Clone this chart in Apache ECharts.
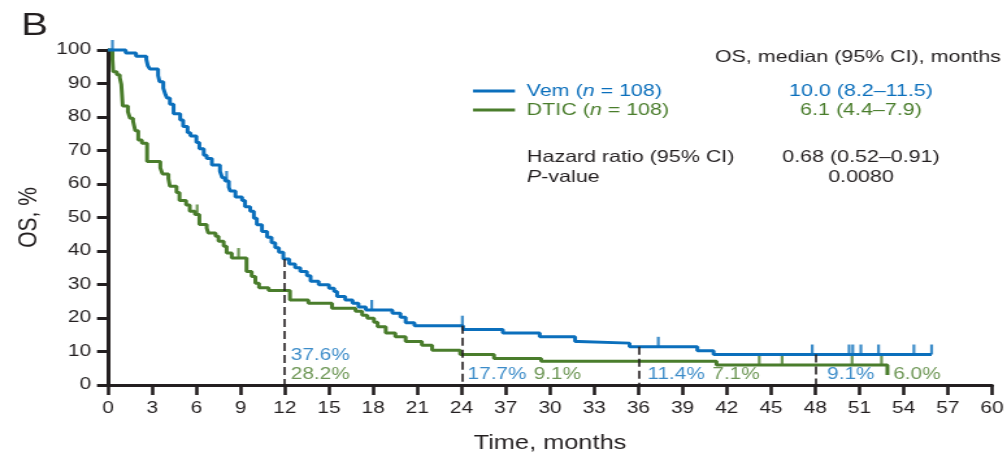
<!DOCTYPE html>
<html><head><meta charset="utf-8">
<script src="https://cdn.jsdelivr.net/npm/echarts@6/dist/echarts.min.js"></script>
<style>
html,body{margin:0;padding:0;background:#fff;overflow:hidden;}
#wrap{width:1007px;height:453px;overflow:hidden;position:relative;}
#chart{width:775px;height:453px;transform:scaleX(1.29935);transform-origin:0 0;}
</style></head><body>
<div id="wrap"><div id="chart"></div></div>
<script>
// ---------------- data ----------------
const vemTimes = [0,1.2,1.9,2.6,2.7,2.85,3.4,3.5,3.75,3.9,4.0,4.2,4.45,4.9,5.1,5.4,5.6,6.0,6.2,6.5,6.7,7.05,7.6,7.75,7.95,8.2,8.3,8.65,9.1,9.3,9.65,9.9,10.1,10.45,10.8,11.1,11.35,11.6,11.9,12.3,12.7,13.05,13.5,13.75,14.3,15.0,15.35,15.55,16.1,16.6,17.0,17.5,19.3,19.85,20.2,20.8,24.1,26.8,29.3,31.7,31.95,35.4,40.0,41.1];
const vemSurv  = [100,99.1,98.1,97.2,95.3,94.3,92.4,90.5,88.6,86.7,85.7,83.8,81.0,79.1,77.2,75.3,74.3,72.4,70.5,68.6,67.6,65.7,63.8,61.9,60.9,59.0,57.9,56.1,55.1,53.2,51.9,49.8,47.8,45.8,44.1,42.5,41.0,39.6,37.6,36.1,35.0,33.9,32.6,31.0,29.9,28.9,27.9,26.4,25.4,24.4,23.3,22.4,21.4,20.2,18.6,17.7,16.6,15.5,14.4,13.0,12.5,11.4,10.2,9.1];
const vemLastFollowUp = 55.9;
const vemCensor = [0.3,8.05,17.9,24.05,37.35,47.8,50.3,50.55,51.1,52.3,54.7,55.9];

const dticTimes = [0,0.3,0.35,0.6,0.8,0.9,1.0,1.35,1.5,1.7,1.85,2.05,2.3,2.65,3.55,3.7,4.1,4.2,4.65,4.85,5.3,5.55,5.9,6.2,6.7,6.8,7.3,7.5,7.85,8.05,8.4,9.4,9.75,10.0,10.25,10.9,12.35,13.6,15.2,16.8,17.25,17.6,18.05,18.3,18.85,19.5,20.2,21.3,22.0,23.9,26.2,29.4,41.3,52.9];
const dticSurv  = [100,97.2,93.5,92.6,91.7,89.8,83.3,81.5,79.6,78.7,75.9,73.1,72.2,66.7,64.8,63.0,61.6,59.3,57.5,55.1,53.7,51.9,50.9,47.9,46.8,45.4,44.4,42.9,41.4,39.4,37.9,33.9,32.4,30.4,29.0,28.2,25.4,24.4,22.9,22.0,20.8,19.9,18.7,17.4,15.5,14.4,13.0,11.9,10.4,9.1,7.9,7.1,6.0,3.0];
const dticLastFollowUp = 52.9;
const dticCensor = [6.05,8.86,44.2,45.75,50.5,52.5];

const landmarkTimes = [12,24,36,48];
const vemLandmark  = ['37.6%','17.7%','11.4%','9.1%'];
const dticLandmark = ['28.2%','9.1%','7.1%','6.0%'];

const xTickLabels = ['0','3','6','9','12','15','18','21','24','37','30','33','36','39','42','45','48','51','54','57','60'];
const yTicks = [0,10,20,30,40,50,60,70,80,90,100];

const vemName = 'Vem', dticName = 'DTIC';
const nPerArm = [108,108];
const medianText = ['10.0 (8.2–11.5)','6.1 (4.4–7.9)'];
const hrText = '0.68 (0.52–0.91)';
const pText = '0.0080';

// ---------------- style / layout ----------------
const S = 1007/775;               // horizontal stretch of the reference
const X = px => px / S;           // reference pixel -> design pixel
const BLUE = '#0b6fbc', GREEN = '#4a7d2c', INK = '#231f20';
const FONT = '"Liberation Sans", Arial, Helvetica, sans-serif';

function stepPoints(ts, vs, last){
  const pts = ts.map((t,i)=>[t, vs[i]]);
  if (last > ts[ts.length-1]) pts.push([last, vs[vs.length-1]]);
  return pts;
}
function survAt(ts, vs, t){
  let v = vs[0];
  for (let i=0;i<ts.length;i++){ if (ts[i] <= t) v = vs[i]; else break; }
  return v;
}

const chart = echarts.init(document.getElementById('chart'), null, {renderer:'canvas'});

const dashData = landmarkTimes.map(t => [{coord:[t, survAt(vemTimes, vemSurv, t)]},{coord:[t, 0]}]);

// label offsets (reference pixels, relative to landmark x / axis)
const blueDx = [6,6,9,12], greenDx = [6,72,74,78];
const blueDy = [-29,-10,-10,-10], greenDy = [-10,-10,-10,-10];

const labelItems = [];
landmarkTimes.forEach((t,i)=>{
  labelItems.push({value:[t,0], label:{formatter:vemLandmark[i], color:BLUE, position:[X(blueDx[i]), blueDy[i]]}});
  labelItems.push({value:[t,0], label:{formatter:dticLandmark[i], color:GREEN, position:[X(greenDx[i]), greenDy[i]]}});
});

const option = {
  animation:false,
  backgroundColor:'#fff',
  grid:{left:X(108), right:X(1007-992), top:50, bottom:68, containLabel:false, outerBoundsMode:'none'},
  xAxis:{
    type:'value', min:0, max:60, interval:3,
    name:'Time, months', nameLocation:'middle', nameGap:49,
    nameTextStyle:{fontSize:19.5, color:INK, fontFamily:FONT},
    axisLine:{show:true, lineStyle:{color:INK, width:3}},
    axisTick:{show:true, length:10, lineStyle:{color:INK, width:2.6}},
    axisLabel:{margin:16, fontSize:16, color:INK, fontFamily:FONT,
      formatter:(v)=> xTickLabels[Math.round(v/3)] ?? ''},
    splitLine:{show:false}
  },
  yAxis:{
    type:'value', min:0, max:100, interval:10,
    name:'OS, %', nameLocation:'middle', nameGap:X(51),
    nameTextStyle:{fontSize:21, color:INK, fontFamily:FONT},
    axisLine:{show:true, lineStyle:{color:INK, width:3}},
    axisTick:{show:true, length:X(11), lineStyle:{color:INK, width:3}},
    axisLabel:{margin:X(17), fontSize:16, color:INK, fontFamily:FONT,
      formatter:(v)=> yTicks.includes(v) ? String(v) : ''},
    splitLine:{show:false}
  },
  legend:{
    show:true, orient:'vertical', left:X(473), top:81.5, padding:0, itemGap:0,
    icon:'rect', itemWidth:X(515-473), itemHeight:3,
    data:[
      {name:vemName, textStyle:{color:BLUE}},
      {name:dticName, textStyle:{color:GREEN}}
    ],
    formatter:(name)=>{
      const n = name===vemName ? nPerArm[0] : nPerArm[1];
      return '{sp|}{a|' + name + ' (}{i|n}{a| = ' + n + ')}';
    },
    textStyle:{fontSize:16.5, fontFamily:FONT, lineHeight:19,
      rich:{
        sp:{width:4},
        a:{fontSize:16.5, fontFamily:FONT, lineHeight:19},
        i:{fontSize:16.5, fontFamily:FONT, fontStyle:'italic', lineHeight:19}
      }}
  },
  series:[
    {
      name:dticName, type:'line', step:'end', showSymbol:false, clip:false,
      data:stepPoints(dticTimes, dticSurv, dticLastFollowUp),
      lineStyle:{color:GREEN, width:3}, itemStyle:{color:GREEN}, z:3
    },
    {
      name:dticName+' censored', type:'scatter', clip:false,
      data:dticCensor.map(t=>[t, survAt(dticTimes, dticSurv, t)]),
      symbol:'rect', symbolSize:[2.2,10], symbolOffset:[0,-5],
      itemStyle:{color:GREEN}, z:3
    },
    {
      name:vemName, type:'line', step:'end', showSymbol:false, clip:false,
      data:stepPoints(vemTimes, vemSurv, vemLastFollowUp),
      lineStyle:{color:BLUE, width:3}, itemStyle:{color:BLUE}, z:4,
      markLine:{
        silent:true, symbol:['none','none'], label:{show:false},
        lineStyle:{color:INK, width:1.6, type:[8,4]},
        data:dashData
      }
    },
    {
      name:vemName+' censored', type:'scatter', clip:false,
      data:vemCensor.map(t=>[t, survAt(vemTimes, vemSurv, t)]),
      symbol:'rect', symbolSize:[2.2,10], symbolOffset:[0,-5],
      itemStyle:{color:BLUE}, z:4
    },
    {
      name:'landmark labels', type:'scatter', symbolSize:0, silent:true, clip:false,
      data:labelItems,
      label:{show:true, fontSize:16, fontFamily:FONT, align:'left', verticalAlign:'middle'},
      z:5
    }
  ],
  graphic:[
    {type:'text', left:X(21), top:11, style:{text:'B', fontSize:31, fontFamily:FONT, fill:INK}},
    {type:'text', x:X(715), y:57, style:{text:'OS, median (95% CI), months', fontSize:16.5, fontFamily:FONT, fill:INK, align:'left', verticalAlign:'middle', textAlign:'left', textVerticalAlign:'middle'}},
    {type:'text', x:X(861), y:91, style:{text:medianText[0], fontSize:16.5, fontFamily:FONT, fill:BLUE, align:'center', verticalAlign:'middle', textAlign:'center', textVerticalAlign:'middle'}},
    {type:'text', x:X(861), y:110, style:{text:medianText[1], fontSize:16.5, fontFamily:FONT, fill:GREEN, align:'center', verticalAlign:'middle', textAlign:'center', textVerticalAlign:'middle'}},
    {type:'text', x:X(527), y:157, style:{text:'Hazard ratio (95% CI)', fontSize:16.5, fontFamily:FONT, fill:INK, align:'left', verticalAlign:'middle', textAlign:'left', textVerticalAlign:'middle'}},
    {type:'text', x:X(861), y:157, style:{text:hrText, fontSize:16.5, fontFamily:FONT, fill:INK, align:'center', verticalAlign:'middle', textAlign:'center', textVerticalAlign:'middle'}},
    {type:'text', x:X(527), y:177, style:{text:'{i|P}{a|-value}', fontSize:16.5, fontFamily:FONT, fill:INK, align:'left', verticalAlign:'middle', textAlign:'left', textVerticalAlign:'middle',
      rich:{i:{fontSize:16.5, fontFamily:FONT, fontStyle:'italic', fill:INK}, a:{fontSize:16.5, fontFamily:FONT, fill:INK}}}},
    {type:'text', x:X(861), y:177, style:{text:pText, fontSize:16.5, fontFamily:FONT, fill:INK, align:'center', verticalAlign:'middle', textAlign:'center', textVerticalAlign:'middle'}}
  ]
};
chart.setOption(option);
</script>
</body></html>
